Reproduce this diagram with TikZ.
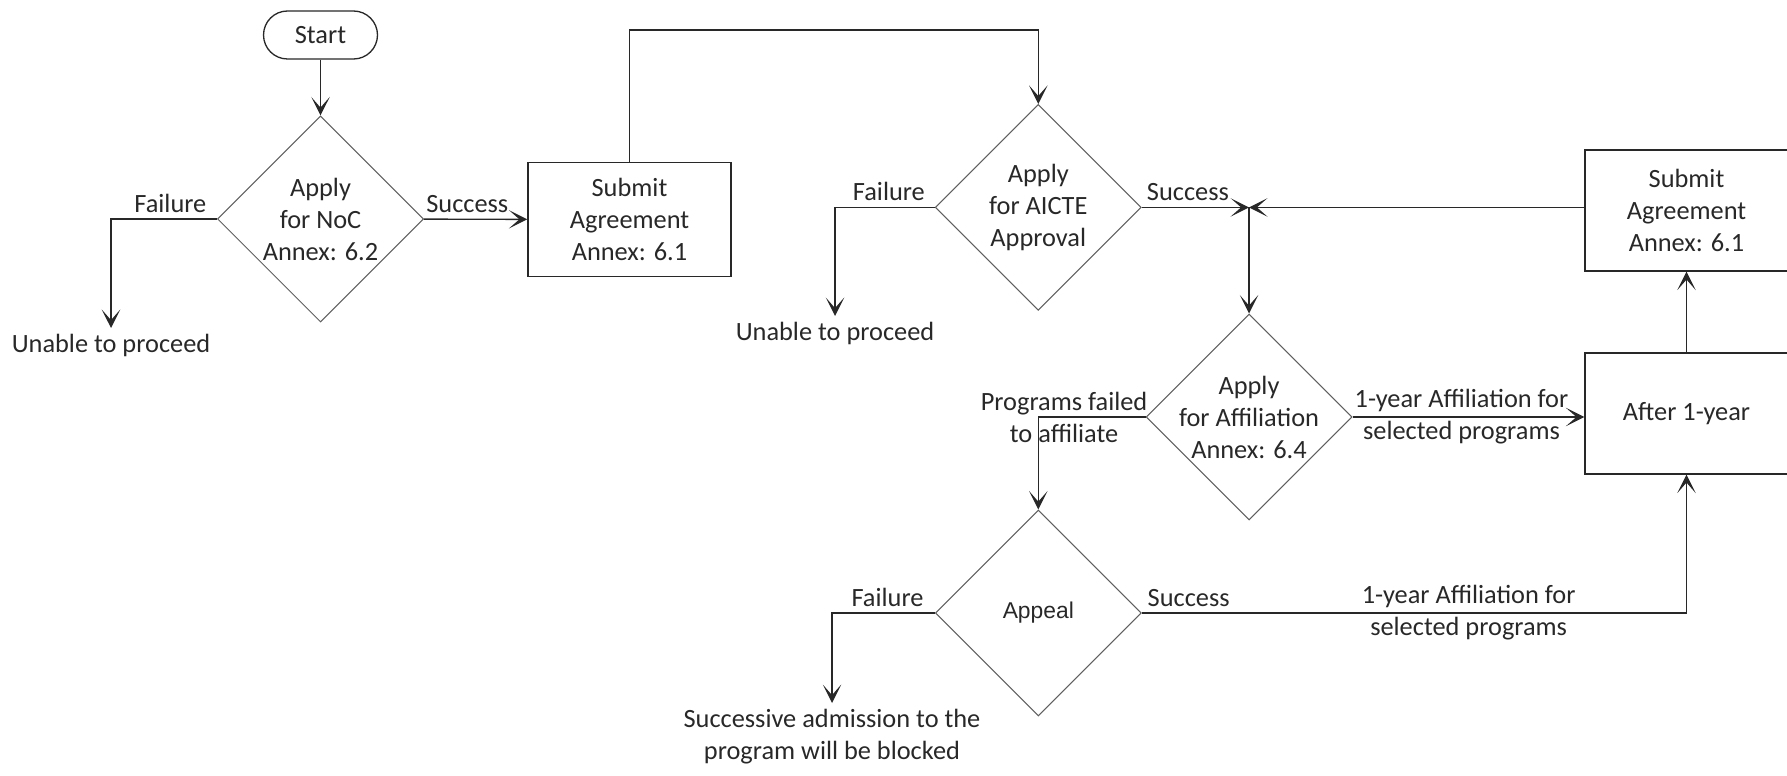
\documentclass[tikz,border=0pt]{standalone}
\usepackage{fontspec}
\setmainfont{Carlito}
\newfontfamily\arialfont{Liberation Sans}
\usetikzlibrary{arrows.meta,shapes.geometric,positioning}
\definecolor{inkgray}{RGB}{40,40,40}
\definecolor{edgegray}{RGB}{95,95,95}

\tikzset{
  flow/.style={draw=inkgray, line width=0.8pt, -{Stealth[length=10.5pt,width=10.5pt,inset=6pt]}},
  terminal/.style={draw=inkgray, line width=0.75pt, rounded corners=0.48cm, minimum width=2.28cm, minimum height=0.96cm},
  procbox/.style={draw=inkgray, line width=0.8pt, minimum width=4.06cm, minimum height=2.28cm, align=center},
  decision/.style={diamond, draw=edgegray, line width=0.6pt, aspect=1, minimum width=4.12cm, minimum height=4.12cm, inner xsep=-2cm, inner ysep=0pt, align=center},
  note/.style={align=center}
}

\begin{document}
\begin{tikzpicture}[x=0.02cm, y=-0.02cm, font=\fontsize{15}{18.2}\selectfont, text=inkgray]
\useasboundingbox (0,0) rectangle (1787,776);

% Nodes
\node[terminal] (start) at (320.5,35) {Start};
\node[decision] (noc) at (320.5,219) {Apply\\for NoC\\Annex: 6.2};
\node[procbox] (sub1) at (629.5,219.5) {Submit\\Agreement\\Annex: 6.1};
\node[decision] (aicte) at (1038.3,207.4) {Apply\\for AICTE\\Approval};
\node[decision] (affil) at (1249,417) {Apply\\for Affiliation\\Annex: 6.4};
\node[decision] (appeal) at (1038.3,613) {\arialfont\fontsize{13}{16}\selectfont Appeal};
\node[procbox, minimum height=2.42cm] (sub2) at (1686.5,210.5) {Submit\\Agreement\\Annex: 6.1};
\node[procbox, minimum height=2.42cm] (after) at (1686.5,413.5) {After 1-year};

\node[note, anchor=north] (stop1) at (111,328) {Unable to proceed};
\node[note, anchor=north] (stop2) at (835,316) {Unable to proceed};
\node[note, anchor=north] (blocked) at (832,703) {Successive admission to the\\program will be blocked};

\coordinate (ridge) at (1038.3,30);
\coordinate (junc) at (1249,207.4);

% Connectors
\draw[flow] (start) -- (noc);
\draw[flow] (noc.west) -| node[pos=.22, above] (lf1) {Failure} (stop1.north);
\draw[flow] (noc) -- node[pos=.42, above] (ls1) {Success} (sub1);
\draw[flow] (sub1.north) |- (ridge) -- (aicte.north);

\draw[flow] (aicte.west) -| node[pos=.23, above] (lf2) {Failure} (stop2.north);
\draw[flow] (aicte) -- node[pos=.43, above] (ls2) {Success} (junc);
\draw[flow] (sub2.west |- junc) -- (junc);
\draw[flow] (junc) -- (affil.north);

\draw[flow] (affil.west) -| node[pos=.38, note] (lpf) {Programs failed\\to affiliate} (appeal.north);
\draw[flow] (affil.east) -- node[pos=.47, note] (la1) {1-year Affiliation for\\selected programs} (affil.east -| after.west);
\draw[flow] (after) -- (sub2);

\draw[flow] (appeal.west) -| node[pos=.23, above] (lf3) {Failure} (blocked.north);
\draw[flow] (appeal.east) -| node[pos=.043, above] (ls3) {Success}
  node[pos=.3, note] (la2) {1-year Affiliation for\\selected programs} (after.south);
\end{tikzpicture}
\end{document}
